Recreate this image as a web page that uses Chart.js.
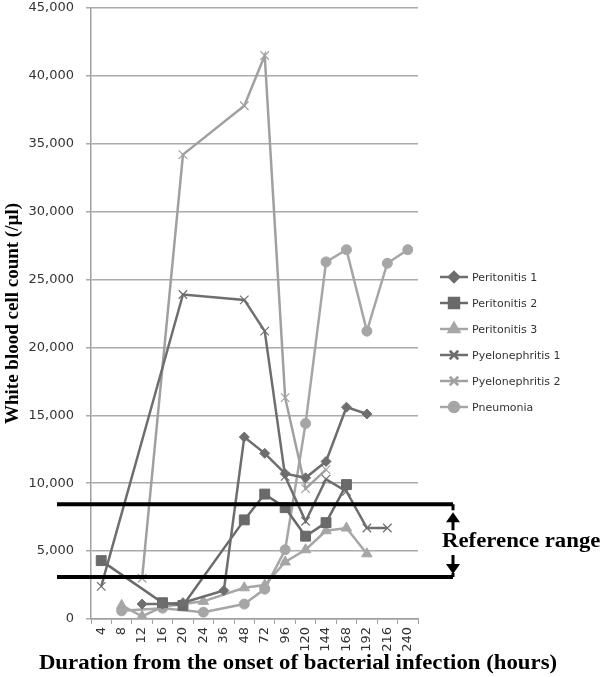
<!DOCTYPE html>
<html>
<head>
<meta charset="utf-8">
<script src="https://cdn.jsdelivr.net/npm/chart.js@4.4.1/dist/chart.umd.min.js"></script>
<style>
  body { margin: 0; background: #fff; }
  canvas { display: block; }
</style>
</head>
<body>
<canvas id="wbc" width="600" height="677"></canvas>
<script>
// hours after onset (category axis)
const hours = ["4", "8", "12", "16", "20", "24", "36", "48", "72", "96", "120", "144", "168", "192", "216", "240"];

const peritonitis1 = [null, null, 1100, 1100, 1200, null, 2100, 13400, 12200, 10700, 10400, 11600, 15600, 15100, null, null];
const peritonitis2 = [4300, null, null, 1200, 1000, null, null, 7300, 9200, 8200, 6100, 7100, 9900, null, null, null];
const peritonitis3 = [null, 1000, 200, 900, null, 1300, null, 2300, 2500, 4200, 5100, 6500, 6700, 4800, null, null];
const pyelonephritis1 = [2400, null, null, null, 23900, null, null, 23500, 21200, 10500, 7200, 10300, 9400, 6700, 6700, null];
const pyelonephritis2 = [null, null, 3000, null, 34200, null, null, 37800, 41500, 16300, 9600, 11000, null, null, null, null];
const pneumonia = [null, 600, null, 800, null, 500, null, 1100, 2200, 5100, 14400, 26300, 27200, 21200, 26200, 27200];

// reference range of WBC (/µl)
const refLow = 3100;
const refHigh = 8450;

const DARK = "#6e6e6e";
const LIGHT = "#a6a6a6";
const SERIF = "'Liberation Serif', 'DejaVu Serif', serif";

function series(label, data, color, style, radius) {
  return {
    label: label,
    data: data,
    borderColor: color,
    backgroundColor: color,
    borderWidth: 2.5,
    pointStyle: style,
    pointRadius: radius,
    pointBorderWidth: style === "crossRot" ? 1.2 : 1,
    pointBorderColor: color,
    pointBackgroundColor: color,
    spanGaps: true,
    tension: 0,
  };
}

// text in the figure is a bit wider than the font, so stretch it
function wideText(ctx, text, x, y, align) {
  const sx = 1.14;
  ctx.save();
  ctx.translate(x, y);
  ctx.scale(sx, 1);
  ctx.textAlign = align;
  ctx.fillText(text, 0, 0);
  ctx.restore();
}

const overlay = {
  id: "overlay",
  afterDraw(chart) {
    const ctx = chart.ctx;
    const y = chart.scales.y;
    const yHi = y.getPixelForValue(refHigh);
    const yLo = y.getPixelForValue(refLow);
    const ax = 453;

    ctx.save();
    // reference range lines
    ctx.strokeStyle = "#000";
    ctx.lineWidth = 4;
    ctx.beginPath();
    ctx.moveTo(57, yHi); ctx.lineTo(ax, yHi);
    ctx.moveTo(57, yLo); ctx.lineTo(ax, yLo);
    ctx.stroke();

    // arrows
    ctx.lineWidth = 3;
    ctx.beginPath();
    ctx.moveTo(ax, yHi); ctx.lineTo(ax, yHi + 6);
    ctx.moveTo(ax, yHi + 12); ctx.lineTo(ax, yHi + 26);
    ctx.moveTo(ax, yLo - 22); ctx.lineTo(ax, yLo - 8);
    ctx.moveTo(ax, yLo); ctx.lineTo(ax, yLo - 4);
    ctx.stroke();
    ctx.fillStyle = "#000";
    ctx.beginPath();
    ctx.moveTo(ax, yHi + 8); ctx.lineTo(ax - 7, yHi + 18); ctx.lineTo(ax + 7, yHi + 18); ctx.closePath();
    ctx.moveTo(ax, yLo - 3); ctx.lineTo(ax - 7, yLo - 13); ctx.lineTo(ax + 7, yLo - 13); ctx.closePath();
    ctx.fill();

    ctx.font = "bold 20px " + SERIF;
    ctx.textBaseline = "middle";
    wideText(ctx, "Reference range", 442, (yHi + yLo) / 2 + 1, "left");

    // x axis title
    wideText(ctx, "Duration from the onset of bacterial infection (hours)", 298, 664, "center");

    // legend
    chart.data.datasets.forEach((d, i) => {
      const ly = 277 + i * 26;
      ctx.strokeStyle = d.borderColor;
      ctx.lineWidth = 2.5;
      ctx.beginPath();
      ctx.moveTo(440, ly); ctx.lineTo(468, ly);
      ctx.stroke();
      ctx.fillStyle = d.borderColor;
      Chart.helpers.drawPoint(ctx, {
        pointStyle: d.pointStyle,
        radius: d.pointRadius,
        rotation: 0,
        borderWidth: d.pointBorderWidth,
      }, 454, ly);
      ctx.fillStyle = "#333";
      ctx.font = "11px 'DejaVu Sans', sans-serif";
      ctx.textAlign = "left";
      ctx.fillText(d.label, 472, ly + 1);
    });
    ctx.restore();
  },
};

new Chart(document.getElementById("wbc"), {
  type: "line",
  data: {
    labels: hours,
    datasets: [
      series("Peritonitis 1", peritonitis1, DARK, "rectRot", 5),
      series("Peritonitis 2", peritonitis2, "#6a6a6a", "rect", 7),
      series("Peritonitis 3", peritonitis3, LIGHT, "triangle", 6),
      series("Pyelonephritis 1", pyelonephritis1, DARK, "crossRot", 6),
      series("Pyelonephritis 2", pyelonephritis2, "#a0a0a0", "crossRot", 6),
      series("Pneumonia", pneumonia, LIGHT, "circle", 5),
    ],
  },
  options: {
    responsive: false,
    animation: false,
    devicePixelRatio: 1,
    layout: { padding: { top: 6, right: 182, bottom: 0, left: 0 } },
    plugins: {
      legend: { display: false },
      tooltip: { enabled: false },
    },
    scales: {
      x: {
        offset: true,
        grid: {
          offset: true,
          drawOnChartArea: false,
          drawTicks: true,
          tickLength: 5,
          color: "#a0a0a0",
        },
        border: { color: "#a0a0a0", width: 1.5 },
        ticks: {
          autoSkip: false,
          minRotation: 90,
          maxRotation: 90,
          padding: 3,
          color: "#333",
          font: { size: 13, family: "'DejaVu Sans', sans-serif" },
        },
        afterFit(scale) {
          scale.height = 58;
          scale.paddingLeft = 0;
          scale.paddingRight = 0;
        },
      },
      y: {
        min: 0,
        max: 45000,
        ticks: {
          stepSize: 5000,
          padding: 12,
          color: "#333",
          font: { size: 13, family: "'DejaVu Sans', sans-serif" },
          callback: (v) => v.toLocaleString("en-US"),
        },
        grid: { color: "#aaaaaa", lineWidth: 1.5, tickLength: 5 },
        border: { color: "#a0a0a0", width: 1.5 },
        title: {
          display: true,
          text: "White blood cell count (/µl)",
          color: "#000",
          padding: { top: 2, bottom: 4 },
          font: { size: 19, weight: "bold", family: SERIF },
        },
        afterFit(scale) {
          scale.width = 91;
          scale.paddingTop = 0;
          scale.paddingBottom = 0;
        },
      },
    },
  },
  plugins: [overlay],
});
</script>
</body>
</html>
